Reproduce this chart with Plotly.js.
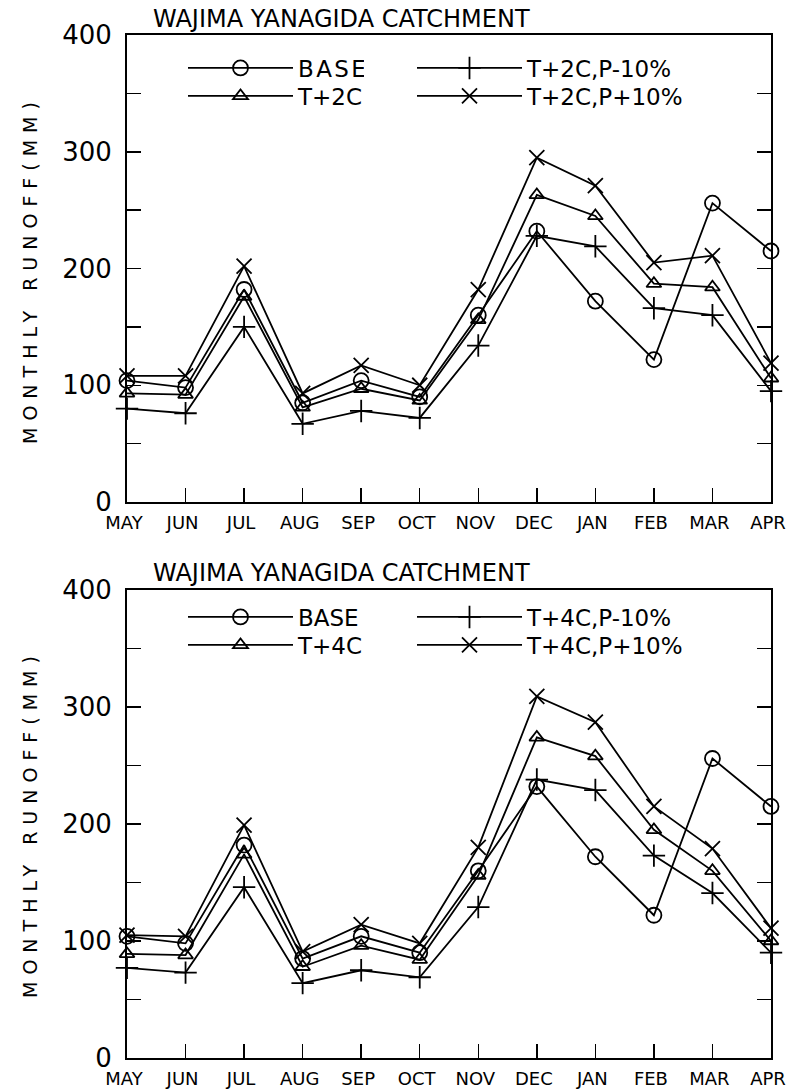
<!DOCTYPE html>
<html><head><meta charset="utf-8">
<script src="https://cdn.plot.ly/plotly-3.0.1.min.js"></script>
<style>
html,body{margin:0;padding:0;background:#fff}
#chart .legendtext{letter-spacing:2.4px}
#chart .annotation[data-index="2"] text,#chart .annotation[data-index="3"] text{letter-spacing:7px}
</style>
</head><body><div id="chart" style="width:787px;height:1091px"></div>
<script>
const months = ['MAY','JUN','JUL','AUG','SEP','OCT','NOV','DEC','JAN','FEB','MAR','APR'];
const base  = [104, 98, 182, 85, 104, 90, 160, 232, 172, 122, 256, 215];
const t2c   = [93, 92, 176, 81, 97, 87, 156, 263, 245, 187, 184, 106];
const t2cPm = [80, 76, 150, 67, 78, 72, 134, 228, 219, 166, 160, 95];
const t2cPp = [108, 108, 202, 93, 117, 100, 182, 295, 271, 205, 211, 119];
const t4c   = [89, 88, 174, 78, 96, 84, 156, 274, 258, 195, 160, 100];
const t4cPm = [77, 73, 146, 64, 75, 69, 129, 238, 229, 173, 141, 90];
const t4cPp = [105, 104, 199, 91, 114, 98, 180, 309, 287, 215, 179, 111];
const yTickVals = [0,50,100,150,200,250,300,350,400];
const yTickText = ['0','','100','','200','','300','','400'];
const titleText = 'WAJIMA YANAGIDA CATCHMENT';
const yTitle = 'MONTHLY RUNOFF(MM)';

const W = 787, H = 1091;
const px = x => x / W;
const py = y => 1 - y / H;
const FONT = 'DejaVu Sans';

function tr(y, name, sym, size, xa, ya, leg) {
  return {
    x: months, y: y, name: name, type: 'scatter', mode: 'lines+markers',
    xaxis: xa, yaxis: ya, legend: leg, cliponaxis: false,
    line: {color: '#000', width: 1.8},
    marker: {symbol: sym, size: size, color: '#000', line: {color: '#000', width: 1.8}}
  };
}
const data = [
  tr(base, 'BASE', 'circle-open', 15, 'x', 'y', 'legend'),
  tr(t2cPm, 'T+2C,P-10%', 'cross-thin-open', 16, 'x', 'y', 'legend2'),
  tr(t2c, 'T+2C', 'triangle-up-open', 13, 'x', 'y', 'legend3'),
  tr(t2cPp, 'T+2C,P+10%', 'x-thin-open', 15, 'x', 'y', 'legend4'),
  tr(base, 'BASE', 'circle-open', 15, 'x2', 'y2', 'legend5'),
  tr(t4cPm, 'T+4C,P-10%', 'cross-thin-open', 16, 'x2', 'y2', 'legend6'),
  tr(t4c, 'T+4C', 'triangle-up-open', 13, 'x2', 'y2', 'legend7'),
  tr(t4cPp, 'T+4C,P+10%', 'x-thin-open', 15, 'x2', 'y2', 'legend8')
];

function xax(anchor, dom) {
  return {
    domain: dom, anchor: anchor, type: 'category', range: [0, 11],
    showline: true, linecolor: '#000', linewidth: 2, mirror: true,
    ticks: 'inside', ticklen: 14, tickwidth: 1.5, tickcolor: '#000',
    showgrid: false, zeroline: false,
    tickfont: {family: FONT, size: 18, color: '#000'}, ticklabelstandoff: 3,
    ticklabelshift: -3
  };
}
function yax(anchor, dom) {
  return {
    domain: dom, anchor: anchor, range: [0, 400],
    tickvals: yTickVals, ticktext: yTickText,
    showline: true, linecolor: '#000', linewidth: 2, mirror: 'allticks',
    ticks: 'inside', ticklen: 14, tickwidth: 1.5, tickcolor: '#000',
    showgrid: false, zeroline: false,
    tickfont: {family: FONT, size: 26, color: '#000'}, ticklabelstandoff: 8
  };
}
const xdom = [px(127), px(771)];
const legendCommon = {
  orientation: 'h', xanchor: 'left', yanchor: 'middle', itemwidth: 105,
  bgcolor: 'rgba(0,0,0,0)', font: {family: FONT, size: 23, color: '#000'}
};
const L = (x, y) => Object.assign({}, legendCommon, {x: px(x), y: py(y)});
const col1 = 183, col2 = 412;
const layout = {
  width: W, height: H, margin: {l: 0, r: 0, t: 0, b: 0},
  paper_bgcolor: '#fff', plot_bgcolor: '#fff', showlegend: true,
  xaxis: xax('y', xdom),
  yaxis: yax('x', [py(502), py(35)]),
  xaxis2: xax('y2', xdom),
  yaxis2: yax('x2', [py(1058), py(590)]),
  legend: L(col1, 68), legend2: L(col2, 68),
  legend3: L(col1, 96), legend4: L(col2, 96),
  legend5: L(col1, 617), legend6: L(col2, 617),
  legend7: L(col1, 645), legend8: L(col2, 645),
  annotations: [
    {text: titleText, xref: 'paper', yref: 'paper', x: px(151), y: py(19), xanchor: 'left', yanchor: 'middle', showarrow: false, font: {family: FONT, size: 24, color: '#000'}},
    {text: titleText, xref: 'paper', yref: 'paper', x: px(151), y: py(573), xanchor: 'left', yanchor: 'middle', showarrow: false, font: {family: FONT, size: 24, color: '#000'}},
    {text: yTitle, xref: 'paper', yref: 'paper', x: px(30), y: py(270), xanchor: 'center', yanchor: 'middle', textangle: -90, showarrow: false, font: {family: FONT, size: 19, color: '#000'}},
    {text: yTitle, xref: 'paper', yref: 'paper', x: px(30), y: py(824), xanchor: 'center', yanchor: 'middle', textangle: -90, showarrow: false, font: {family: FONT, size: 19, color: '#000'}}
  ]
};
Plotly.newPlot('chart', data, layout, {displayModeBar: false, staticPlot: true});
</script></body></html>
